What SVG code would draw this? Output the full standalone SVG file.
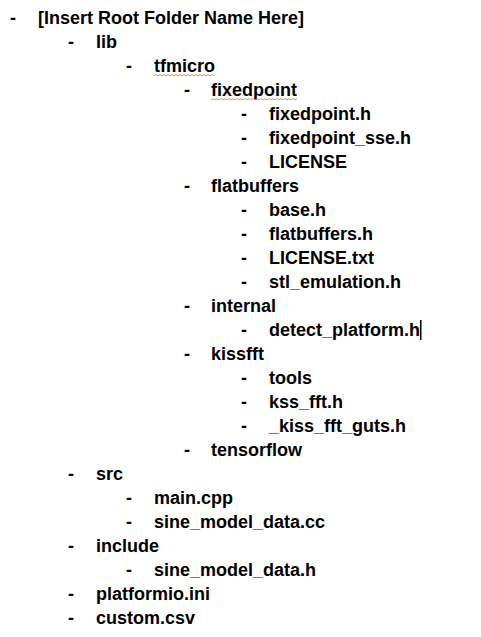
<svg xmlns="http://www.w3.org/2000/svg" width="481" height="637" viewBox="0 0 481 637">
<style>
text{font-family:"Liberation Sans",Arial,sans-serif;font-weight:bold;font-size:18px;fill:#000}
.w{fill:none;stroke:#c8a060;stroke-width:1}
</style>
<rect width="481" height="637" fill="#fff"/>
<g id="list">
<text x="10" y="24">-</text><text x="38" y="24">[Insert Root Folder Name Here]</text>
<text x="68" y="48">-</text><text x="96" y="48">lib</text>
<text x="126" y="72">-</text><text x="154" y="72">tfmicro</text>
<text x="184" y="96">-</text><text x="211" y="96">fixedpoint</text>
<text x="241" y="120">-</text><text x="269" y="120">fixedpoint.h</text>
<text x="241" y="144">-</text><text x="269" y="144">fixedpoint_sse.h</text>
<text x="241" y="168">-</text><text x="269" y="168">LICENSE</text>
<text x="184" y="192">-</text><text x="211" y="192">flatbuffers</text>
<text x="241" y="216">-</text><text x="269" y="216">base.h</text>
<text x="241" y="240">-</text><text x="269" y="240">flatbuffers.h</text>
<text x="241" y="264">-</text><text x="269" y="264">LICENSE.txt</text>
<text x="241" y="288">-</text><text x="269" y="288">stl_emulation.h</text>
<text x="184" y="312">-</text><text x="211" y="312">internal</text>
<text x="241" y="336">-</text><text x="269" y="336">detect_platform.h</text>
<text x="184" y="360">-</text><text x="211" y="360">kissfft</text>
<text x="241" y="384">-</text><text x="269" y="384">tools</text>
<text x="241" y="408">-</text><text x="269" y="408">kss_fft.h</text>
<text x="241" y="432">-</text><text x="269" y="432">_kiss_fft_guts.h</text>
<text x="184" y="456">-</text><text x="211" y="456">tensorflow</text>
<text x="68" y="480">-</text><text x="96" y="480">src</text>
<text x="126" y="504">-</text><text x="154" y="504">main.cpp</text>
<text x="126" y="528">-</text><text x="154" y="528">sine_model_data.cc</text>
<text x="68" y="552">-</text><text x="96" y="552">include</text>
<text x="126" y="576">-</text><text x="154" y="576">sine_model_data.h</text>
<text x="68" y="600">-</text><text x="96" y="600">platformio.ini</text>
<text x="68" y="624">-</text><text x="96" y="624">custom.csv</text>
</g>
<path class="w" d="M154 76 l2 -1.5 l2 1.5 l2 -1.5 l2 1.5 l2 -1.5 l2 1.5 l2 -1.5 l2 1.5 l2 -1.5 l2 1.5 l2 -1.5 l2 1.5 l2 -1.5 l2 1.5 l2 -1.5 l2 1.5 l2 -1.5 l2 1.5 l2 -1.5 l2 1.5 l2 -1.5 l2 1.5 l2 -1.5 l2 1.5 l2 -1.5 l2 1.5 l2 -1.5 l2 1.5 l2 -1.5 l2 1.5"/>
<path class="w" d="M211 100 l2 -1.5 l2 1.5 l2 -1.5 l2 1.5 l2 -1.5 l2 1.5 l2 -1.5 l2 1.5 l2 -1.5 l2 1.5 l2 -1.5 l2 1.5 l2 -1.5 l2 1.5 l2 -1.5 l2 1.5 l2 -1.5 l2 1.5 l2 -1.5 l2 1.5 l2 -1.5 l2 1.5 l2 -1.5 l2 1.5 l2 -1.5 l2 1.5 l2 -1.5 l2 1.5 l2 -1.5 l2 1.5 l2 -1.5 l2 1.5 l2 -1.5 l2 1.5 l2 -1.5 l2 1.5 l2 -1.5 l2 1.5 l2 -1.5 l2 1.5 l2 -1.5 l2 1.5 l2 -1.5"/>
<rect x="420" y="320" width="1.5" height="20" fill="#000"/>
</svg>
